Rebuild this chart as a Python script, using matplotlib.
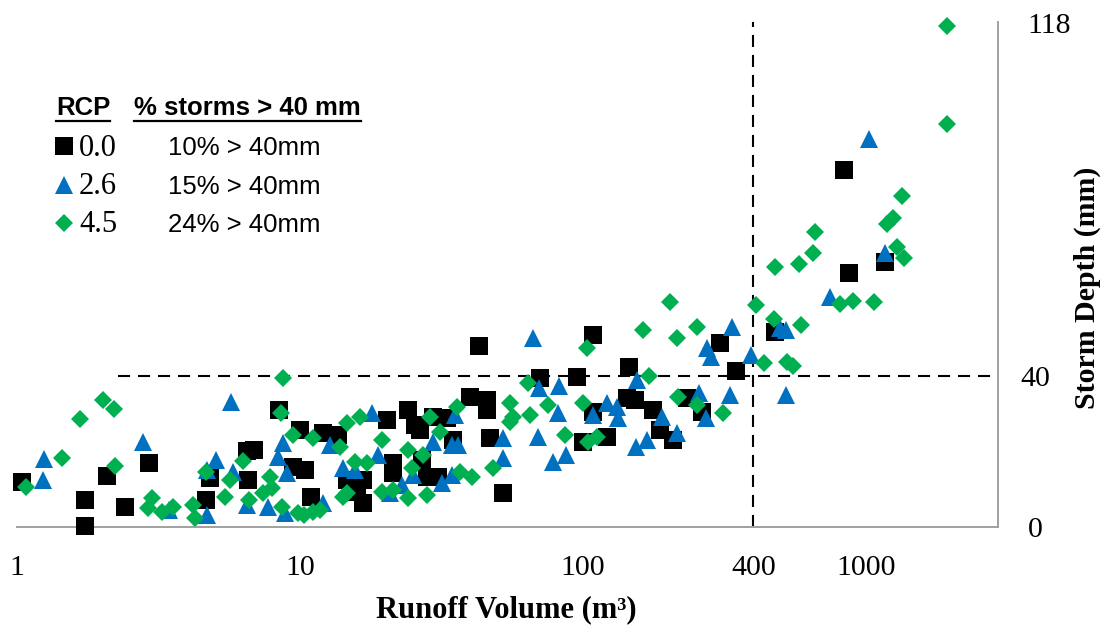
import matplotlib
matplotlib.use("Agg")
import matplotlib.pyplot as plt
from matplotlib.lines import Line2D

# RCP 0.0 storms: runoff volume (m3) and storm depth (mm)
rcp00_volume = [1.04, 1.74, 1.74, 2.08, 2.41, 2.93, 4.81, 4.65, 6.55, 6.50,
                6.88, 8.43, 9.44, 10.4, 10.0, 10.9, 12.1, 13.6, 14.7, 15.9,
                16.7, 16.7, 20.3, 21.3, 21.3, 24.1, 25.5, 26.5, 27.0, 28.1,
                29.5, 30.7, 33.1, 34.7, 39.9, 42.9, 45.8, 45.8, 46.9, 52.1,
                70.5, 95.2, 108, 100, 108, 122, 145, 143, 153, 177,
                187, 208, 233, 263, 305, 347, 477, 871, 836, 1167]
rcp00_depth = [11.9, 7.2, 0.3, 13.5, 5.3, 17.0, 13.0, 7.2, 12.5, 20.1,
               20.4, 31.0, 15.9, 15.1, 25.7, 7.9, 24.9, 24.4, 12.5, 9.3,
               6.4, 12.5, 28.3, 14.3, 17.0, 31.0, 27.0, 25.7, 17.7, 13.2,
               29.1, 13.2, 28.9, 23.0, 34.4, 47.9, 33.6, 31.0, 23.6, 9.0,
               39.5, 39.7, 50.9, 22.5, 30.5, 23.8, 42.4, 34.2, 33.6, 31.0,
               25.7, 23.0, 34.2, 30.5, 48.7, 41.3, 51.7, 67.3, 94.8, 70.2]

# RCP 2.6
rcp26_volume = [1.25, 1.24, 2.79, 5.70, 5.05, 5.80, 4.69, 3.44, 4.69, 6.50,
                7.71, 8.85, 8.71, 8.36, 9.0, 12.1, 12.8, 14.2, 15.6, 18.0,
                18.9, 20.8, 22.9, 25.1, 29.5, 31.8, 34.5, 34.5, 35.3, 36.2,
                52.1, 52.1, 66.6, 69.9, 82.3, 81.6, 69.3, 78.3, 87.1, 108,
                122, 132, 133, 155, 154, 168, 190, 215, 257, 272,
                274, 283, 331, 336, 392, 497, 521, 521, 746, 1025, 1167]
rcp26_depth = [18.0, 12.5, 22.5, 33.1, 17.7, 14.6, 15.1, 4.5, 3.2, 5.8,
               5.3, 3.7, 22.3, 18.5, 14.3, 6.4, 21.7, 15.6, 15.1, 30.2,
               19.1, 9.0, 11.1, 13.8, 22.5, 11.7, 13.8, 21.7, 29.7, 21.7,
               23.6, 18.3, 50.1, 36.8, 37.4, 30.2, 23.8, 17.2, 19.1, 29.7,
               32.8, 31.8, 28.9, 38.9, 21.2, 23.0, 29.1, 24.9, 35.5, 28.9,
               47.4, 45.0, 35.0, 53.0, 45.6, 52.7, 52.2, 35.0, 60.9, 103, 72.8]

# RCP 4.5
rcp45_volume = [1.08, 1.44, 1.67, 2.01, 2.20, 2.22, 3.00, 2.90, 3.25, 3.56,
                4.19, 4.26, 4.65, 5.66, 6.29, 5.43, 6.60, 7.40, 7.83, 7.96,
                8.64, 8.57, 8.71, 9.44, 9.84, 11.1, 10.3, 11.1, 11.8, 13.8,
                14.7, 14.2, 14.7, 15.6, 17.3, 16.3, 19.5, 19.5, 21.3, 24.1,
                24.1, 24.9, 27.2, 28.1, 28.8, 31.2, 35.9, 36.8, 40.5, 48.1,
                55.2, 56.6, 63.9, 55.2, 65.0, 75.2, 86.4, 100, 103, 104,
                112, 163, 171, 203, 215, 253, 217, 253, 313, 408,
                473, 477, 589, 436, 526, 552, 580, 650, 661, 809,
                900, 1067, 1186, 1245, 1340, 1288, 1362, 1932, 1932]
rcp45_depth = [10.6, 18.3, 28.6, 33.6, 31.3, 16.2, 7.7, 5.0, 4.0, 5.3,
               5.8, 2.4, 14.6, 12.5, 17.5, 7.9, 7.2, 9.0, 13.2, 10.3,
               5.3, 30.2, 39.5, 24.4, 3.7, 23.6, 3.2, 4.0, 4.5, 21.2,
               27.5, 7.9, 9.0, 17.2, 17.0, 29.1, 23.0, 9.3, 9.8, 20.4,
               7.7, 15.6, 19.1, 8.5, 29.1, 25.2, 31.8, 14.6, 13.2, 15.6,
               32.8, 29.1, 38.1, 27.8, 29.7, 32.3, 24.4, 32.8, 47.4, 22.5,
               23.8, 52.2, 40.0, 59.6, 50.1, 53.2, 34.4, 32.3, 30.2, 58.8,
               55.1, 68.9, 53.5, 43.4, 43.7, 42.6, 69.9, 72.6, 78.4, 59.1,
               60.1, 59.6, 80.5, 81.9, 87.7, 74.2, 71.5, 107, 133]

rcp_labels = ["0.0", "2.6", "4.5"]
pct_labels = ["10% > 40mm", "15% > 40mm", "24% > 40mm"]
x_ticks = [1, 10, 100, 400, 1000]
y_ticks = [0, 40]
top_label = "118"
top_label_depth = 133
depth_threshold = 40
volume_threshold = 400
threshold_line_start = 2.27

SERIF = "Liberation Serif"
SANS = "Liberation Sans"
colors = ["#000000", "#0070C0", "#00B050"]
markers = ["s", "^", "D"]
sizes = [13, 12.5, 9.5]

fig = plt.figure(figsize=(11.04, 6.27), dpi=100)
ax = fig.add_axes([17 / 1104, 100 / 627, 981 / 1104, 505 / 627])
ax.set_xscale("log")
ax.set_xlim(1, 2925)
ax.set_ylim(0, 134)

series = [(rcp00_volume, rcp00_depth), (rcp26_volume, rcp26_depth),
          (rcp45_volume, rcp45_depth)]
for (xv, yv), c, m, s in zip(series, colors, markers, sizes):
    ax.plot(xv, yv, linestyle="none", marker=m, markersize=s, color=c,
            markeredgewidth=0, clip_on=False, zorder=3)

# threshold lines
ax.plot([threshold_line_start, ax.get_xlim()[1]], [depth_threshold] * 2,
        color="black", lw=1.5, linestyle=(0, (5.8, 3.8)), zorder=2)
ax.plot([volume_threshold] * 2, ax.get_ylim(),
        color="black", lw=1.5, linestyle=(0, (5.8, 3.8)), zorder=2)

for side in ["left", "top"]:
    ax.spines[side].set_visible(False)
for side in ["right", "bottom"]:
    ax.spines[side].set_color("#A0A0A0")
    ax.spines[side].set_linewidth(1.4)

ax.set_xticks(x_ticks)
ax.set_xticklabels([str(v) for v in x_ticks], fontfamily=SERIF, fontsize=21.5)
ax.xaxis.set_minor_locator(plt.NullLocator())
ax.tick_params(axis="x", length=0, pad=20)

ax.yaxis.tick_right()
ax.set_yticks(y_ticks)
ax.set_yticklabels([str(v) for v in y_ticks], fontfamily=SERIF, fontsize=21.5)
for lbl in ax.get_yticklabels():
    lbl.set_horizontalalignment("center")
ax.tick_params(axis="y", length=0, pad=27)
ax.text(1.052, top_label_depth, top_label,
        transform=ax.get_yaxis_transform(), ha="center", va="center",
        fontfamily=SERIF, fontsize=21.5)

fig.text(506 / 1104, 1 - 610 / 627, "Runoff Volume (m³)", ha="center",
         va="center", fontfamily=SERIF, fontweight="bold", fontsize=22)
fig.text(1087 / 1104, 1 - 288 / 627, "Storm Depth (mm)", ha="center",
         va="center", rotation=90, fontfamily=SERIF, fontweight="bold",
         fontsize=21.5)


def fpos(px, py):
    return px / 1104, 1 - py / 627


# legend table
h1 = fig.text(*fpos(56, 108), "RCP", ha="left", va="center", fontfamily=SANS,
              fontweight="bold", fontsize=18.5)
h2 = fig.text(*fpos(134, 108), "% storms > 40 mm", ha="left", va="center",
              fontfamily=SANS, fontweight="bold", fontsize=18.5)
row_y = [146, 185, 223]
for py, c, m, s, r, p in zip(row_y, colors, markers, sizes, rcp_labels,
                             pct_labels):
    fig.add_artist(Line2D([64 / 1104], [1 - py / 627], marker=m, markersize=s,
                          color=c, markeredgewidth=0, linestyle="none",
                          transform=fig.transFigure))
    fig.text(*fpos(79, py + 2), r, ha="left", va="center", fontfamily=SERIF,
             fontsize=22)
    fig.text(*fpos(168, py + 2), p, ha="left", va="center", fontfamily=SANS,
             fontsize=18.5)

fig.canvas.draw()
renderer = fig.canvas.get_renderer()
for t in [h1, h2]:
    bb = t.get_window_extent(renderer).transformed(fig.transFigure.inverted())
    fig.add_artist(Line2D([bb.x0, bb.x1], [1 - 121 / 627] * 2, color="black",
                          lw=1.6, transform=fig.transFigure))

fig.savefig("out.png", dpi=100)
